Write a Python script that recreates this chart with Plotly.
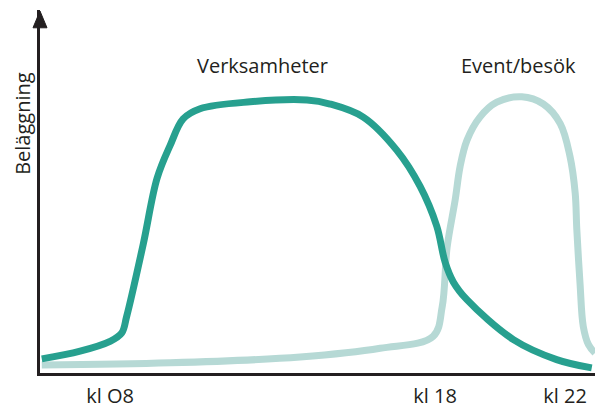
import plotly.graph_objects as go

# Hours of the day (x) and occupancy level (y, 0-100)
verksamheter_x = [5.90, 7.08, 8.00, 8.36, 8.51, 9.02, 9.45, 9.85, 10.25, 10.77, 12.31, 14.06,
                  14.77, 15.79, 16.82, 17.54, 18.05, 18.31, 18.56, 18.98, 20.41, 21.74, 22.82]
verksamheter_y = [3.9, 6.0, 8.7, 11.0, 15.5, 35.4, 53.7, 62.7, 70.0, 72.8, 74.7, 75.2,
                  74.1, 70.5, 61.4, 51.4, 40.5, 30.5, 25.1, 20.2, 9.2, 3.7, 1.4]

event_x = [5.90, 9.85, 13.85, 16.31, 17.94, 18.22, 18.37, 18.62, 18.77, 18.98, 19.38,
           19.90, 20.67, 21.33, 21.85, 22.15, 22.31, 22.36, 22.46, 22.56, 22.72, 22.92]
event_y = [2.2, 2.8, 4.4, 6.8, 10.1, 18.3, 34.6, 47.8, 56.9, 64.1, 70.5,
           74.6, 76.1, 74.1, 68.7, 59.7, 49.6, 39.6, 24.6, 12.8, 7.8, 5.5]

tick_vals = [8, 18, 22]
tick_text = ["kl O8", "kl 18", "kl 22"]

series_labels = ["Verksamheter", "Event/besök"]
label_x = [12.68, 20.58]
label_y = [84.6, 84.6]

y_title = "Beläggning"

DARK = "#27a08f"
LIGHT = "#b6d9d5"
AXIS = "#231f20"
TEXT = "#231f20"
FONT = "Open Sans"

fig = go.Figure()
fig.add_trace(go.Scatter(x=event_x, y=event_y, mode="lines",
                         line=dict(color=LIGHT, width=7, shape="spline", smoothing=1.0),
                         hoverinfo="skip", showlegend=False, cliponaxis=False))
fig.add_trace(go.Scatter(x=verksamheter_x, y=verksamheter_y, mode="lines",
                         line=dict(color=DARK, width=7, shape="spline", smoothing=1.0),
                         hoverinfo="skip", showlegend=False, cliponaxis=False))

for t, x, y in zip(series_labels, label_x, label_y):
    fig.add_annotation(x=x, y=y, text=t, showarrow=False,
                       font=dict(family=FONT, size=20, color=TEXT))

fig.add_annotation(xref="paper", yref="paper", x=-0.032, y=0.687, text=y_title,
                   textangle=-90, showarrow=False, xanchor="center", yanchor="middle",
                   font=dict(family=FONT, size=20, color=TEXT))

# arrow head on y axis
fig.add_shape(type="path", xref="paper", yref="paper",
              path="M -0.0126 0.951 L 0 0.997 L 0.0126 0.951 Z",
              fillcolor=AXIS, line=dict(color=AXIS, width=1))

fig.update_layout(
    width=595, height=409,
    margin=dict(l=40, r=0, t=10, b=32),
    plot_bgcolor="white", paper_bgcolor="white",
    xaxis=dict(range=[5.846, 22.92], showgrid=False, zeroline=False,
               showline=True, linewidth=3, linecolor=AXIS,
               tickvals=tick_vals, ticktext=tick_text, ticks="",
               ticklabelstandoff=3,
               tickfont=dict(family=FONT, size=20, color=TEXT)),
    yaxis=dict(range=[0, 100], showgrid=False, zeroline=False,
               showline=True, linewidth=3, linecolor=AXIS,
               showticklabels=False, ticks=""),
)

fig.write_html("out.html", config={"displayModeBar": False},
               post_script="document.body.style.margin='0';document.body.style.overflow='hidden';")
